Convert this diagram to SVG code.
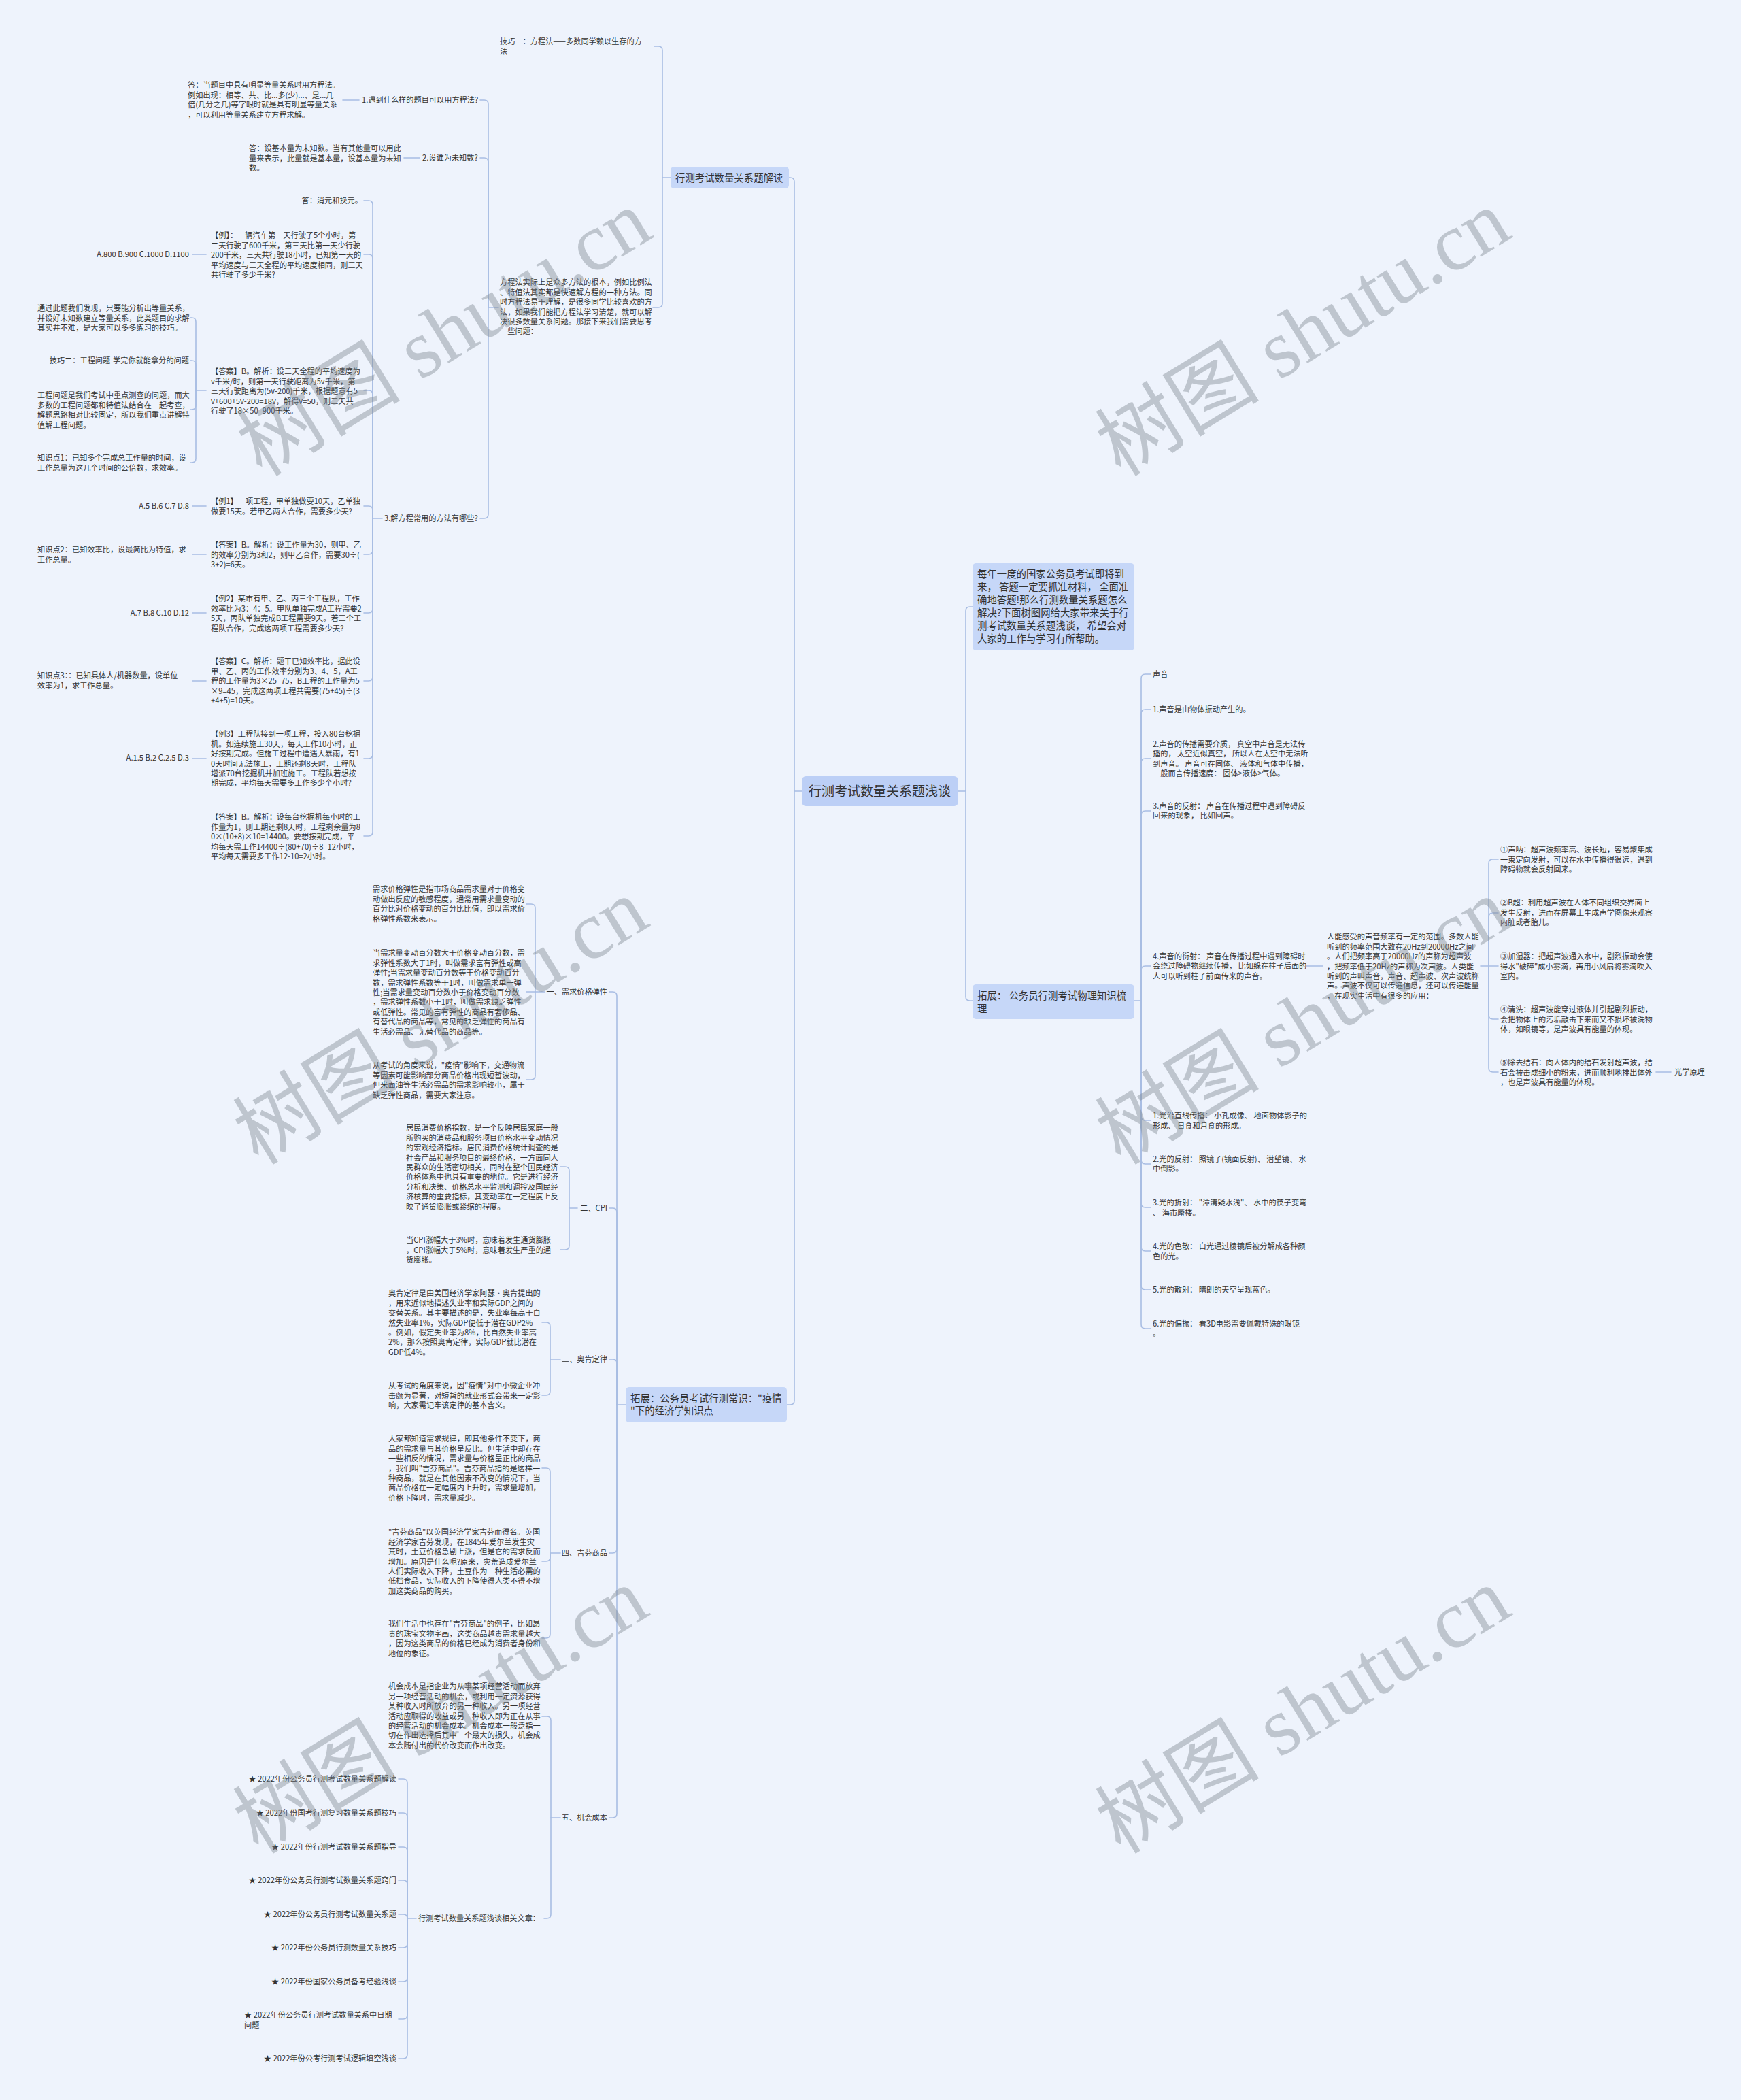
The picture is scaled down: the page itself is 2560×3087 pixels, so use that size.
<svg xmlns="http://www.w3.org/2000/svg" width="2560" height="3087" viewBox="0 0 2560 3087">
<style>
.l{fill:none;stroke:#a8bde3;stroke-width:1.6;stroke-linecap:round}
.t{font-family:"Noto Sans CJK SC","Microsoft YaHei",sans-serif;font-size:11.2px;fill:#333}
.e{text-anchor:end}
.m{font-size:14.4px}
.c{font-size:19px}
.b{fill:#c6d7f8}
.bc{fill:#bccff6}
.w{font-family:"Liberation Serif","Noto Sans CJK SC",serif;font-size:121px;fill:#7d8590;fill-opacity:0.42}
</style>
<rect width="2560" height="3087" fill="#eef3fc"/>
<g id="connectors">
<path class="l" d="M1409,1163 H1420 V898 Q1420,892 1426,892 H1430"/>
<path class="l" d="M1420,1163 V1465 Q1420,1471 1426,1471 H1430"/>
<path class="l" d="M1179,1163 H1168 V267 Q1168,261 1162,261 H1160"/>
<path class="l" d="M1168,1163 V2059 Q1168,2065 1162,2065 H1157"/>
<path class="l" d="M986,261 H974 V74 Q974,68 968,68 H962"/>
<path class="l" d="M974,261 V446 Q974,452 968,452 H960"/>
<path class="l" d="M733,452 H718 V153 Q718,147 712,147 H706"/>
<path class="l" d="M718,452 V238 Q718,232 712,232 H706"/>
<path class="l" d="M718,452 V756 Q718,762 712,762 H706"/>
<path class="l" d="M528,147 H504"/>
<path class="l" d="M617,232 H594"/>
<path class="l" d="M562,762 H548 V301 Q548,295 542,295 H535"/>
<path class="l" d="M548,762 V380 Q548,374 542,374 H535"/>
<path class="l" d="M548,762 V580 Q548,574 542,574 H535"/>
<path class="l" d="M548,762 V750 Q548,744 542,744 H535"/>
<path class="l" d="M548,762 V809 Q548,815 542,815 H535"/>
<path class="l" d="M548,762 V895 Q548,901 542,901 H535"/>
<path class="l" d="M548,762 V995 Q548,1001 542,1001 H535"/>
<path class="l" d="M548,762 V1109 Q548,1115 542,1115 H535"/>
<path class="l" d="M548,762 V1223 Q548,1229 542,1229 H535"/>
<path class="l" d="M303,374 H283"/>
<path class="l" d="M303,744 H283"/>
<path class="l" d="M303,815 H283"/>
<path class="l" d="M303,901 H283"/>
<path class="l" d="M303,1001 H283"/>
<path class="l" d="M303,1115 H283"/>
<path class="l" d="M303,574 H288 V473 Q288,467 282,467 H280"/>
<path class="l" d="M288,574 V536 Q288,530 282,530 H280"/>
<path class="l" d="M288,574 V596 Q288,602 282,602 H280"/>
<path class="l" d="M288,574 V674 Q288,680 282,680 H280"/>
<path class="l" d="M920,2065 H907 V1464 Q907,1458 901,1458 H896"/>
<path class="l" d="M907,2065 V1782 Q907,1776 901,1776 H896"/>
<path class="l" d="M907,2065 V2004 Q907,1998 901,1998 H896"/>
<path class="l" d="M907,2065 V2277 Q907,2283 901,2283 H896"/>
<path class="l" d="M907,2065 V2666 Q907,2672 901,2672 H896"/>
<path class="l" d="M801,1458 H787 V1335 Q787,1329 781,1329 H774"/>
<path class="l" d="M787,1458 H774"/>
<path class="l" d="M787,1458 V1581 Q787,1587 781,1587 H774"/>
<path class="l" d="M849,1776 H837 V1721 Q837,1715 831,1715 H824"/>
<path class="l" d="M837,1776 V1831 Q837,1837 831,1837 H824"/>
<path class="l" d="M824,1998 H809 V1950 Q809,1944 803,1944 H797"/>
<path class="l" d="M809,1998 V2045 Q809,2051 803,2051 H797"/>
<path class="l" d="M824,2283 H809 V2164 Q809,2158 803,2158 H797"/>
<path class="l" d="M809,2283 V2289 Q809,2295 803,2295 H797"/>
<path class="l" d="M809,2283 V2402 Q809,2408 803,2408 H797"/>
<path class="l" d="M824,2672 H810 V2529 Q810,2523 804,2523 H797"/>
<path class="l" d="M810,2672 V2814 Q810,2820 804,2820 H800"/>
<path class="l" d="M612,2820 H599 V2621 Q599,2615 593,2615 H586"/>
<path class="l" d="M599,2820 V2671 Q599,2665 593,2665 H586"/>
<path class="l" d="M599,2820 V2721 Q599,2715 593,2715 H586"/>
<path class="l" d="M599,2820 V2770 Q599,2764 593,2764 H586"/>
<path class="l" d="M599,2820 Q599,2814 593,2814 H586"/>
<path class="l" d="M599,2820 V2857 Q599,2863 593,2863 H586"/>
<path class="l" d="M599,2820 V2907 Q599,2913 593,2913 H586"/>
<path class="l" d="M599,2820 V2962 Q599,2968 593,2968 H586"/>
<path class="l" d="M599,2820 V3020 Q599,3026 593,3026 H586"/>
<path class="l" d="M1668,1471 H1678 V997 Q1678,991 1684,991 H1692"/>
<path class="l" d="M1678,1471 V1049 Q1678,1043 1684,1043 H1692"/>
<path class="l" d="M1678,1471 V1121 Q1678,1115 1684,1115 H1692"/>
<path class="l" d="M1678,1471 V1198 Q1678,1192 1684,1192 H1692"/>
<path class="l" d="M1678,1471 V1426 Q1678,1420 1684,1420 H1692"/>
<path class="l" d="M1678,1471 V1641 Q1678,1647 1684,1647 H1692"/>
<path class="l" d="M1678,1471 V1705 Q1678,1711 1684,1711 H1692"/>
<path class="l" d="M1678,1471 V1769 Q1678,1775 1684,1775 H1692"/>
<path class="l" d="M1678,1471 V1833 Q1678,1839 1684,1839 H1692"/>
<path class="l" d="M1678,1471 V1890 Q1678,1896 1684,1896 H1692"/>
<path class="l" d="M1678,1471 V1947 Q1678,1953 1684,1953 H1692"/>
<path class="l" d="M1921,1420 H1945"/>
<path class="l" d="M2177,1420 H2189 V1269 Q2189,1263 2195,1263 H2203"/>
<path class="l" d="M2189,1420 V1348 Q2189,1342 2195,1342 H2203"/>
<path class="l" d="M2189,1420 H2203"/>
<path class="l" d="M2189,1420 V1492 Q2189,1498 2195,1498 H2203"/>
<path class="l" d="M2189,1420 V1570 Q2189,1576 2195,1576 H2203"/>
<path class="l" d="M2435,1576 H2457"/>
</g>

<g id="n-root"><rect class="bc" x="1179" y="1141" width="230" height="44" rx="6"/><text class="t c" x="1189" y="1170">行测考试数量关系题浅谈</text></g>

<g id="n-intro"><rect class="b" x="1430" y="828" width="238" height="128" rx="5"/>
<text class="t m" x="1437" y="848.5"><tspan x="1437">每年一度的国家公务员考试即将到</tspan><tspan x="1437" dy="19">来， 答题一定要抓准材料， 全面准</tspan><tspan x="1437" dy="19">确地答题!那么行测数量关系题怎么</tspan><tspan x="1437" dy="19">解决?下面树图网给大家带来关于行</tspan><tspan x="1437" dy="19">测考试数量关系题浅谈， 希望会对</tspan><tspan x="1437" dy="19">大家的工作与学习有所帮助。</tspan></text></g>

<g id="n-phys"><rect class="b" x="1430" y="1447" width="238" height="51" rx="5"/>
<text class="t m" x="1437" y="1468.5"><tspan x="1437">拓展： 公务员行测考试物理知识梳</tspan><tspan x="1437" dy="19">理</tspan></text></g>

<g id="n-jiedu"><rect class="b" x="986" y="245" width="174" height="32" rx="5"/><text class="t m" x="993" y="266.5">行测考试数量关系题解读</text></g>

<g id="n-yiqing"><rect class="b" x="920" y="2039" width="237" height="52" rx="5"/>
<text class="t m" x="927" y="2060.5"><tspan x="927">拓展：公务员考试行测常识："疫情</tspan><tspan x="927" dy="18.5">"下的经济学知识点</tspan></text></g>

<g id="n-jq1"><text class="t" x="735" y="65.3"><tspan x="735">技巧一：方程法——多数同学赖以生存的方</tspan><tspan x="735" dy="14.4">法</tspan></text></g>
<g id="n-fcf"><text class="t" x="735" y="419.3"><tspan x="735">方程法实际上是众多方法的根本，例如比例法</tspan><tspan x="735" dy="14.4">、特值法其实都是快速解方程的一种方法。同</tspan><tspan x="735" dy="14.4">时方程法易于理解，是很多同学比较喜欢的方</tspan><tspan x="735" dy="14.4">法，如果我们能把方程法学习清楚，就可以解</tspan><tspan x="735" dy="14.4">决很多数量关系问题。那接下来我们需要思考</tspan><tspan x="735" dy="14.4">一些问题：</tspan></text></g>
<g id="n-q1"><text class="t" x="532" y="151.3">1.遇到什么样的题目可以用方程法?</text></g>
<g id="n-a1"><text class="t" x="276" y="129.3"><tspan x="276">答：当题目中具有明显等量关系时用方程法。</tspan><tspan x="276" dy="14.4">例如出现：相等、共、比...多(少)...、是...几</tspan><tspan x="276" dy="14.4">倍(几分之几)等字眼时就是具有明显等量关系</tspan><tspan x="276" dy="14.4">，可以利用等量关系建立方程求解。</tspan></text></g>
<g id="n-q2"><text class="t" x="621" y="236.3">2.设谁为未知数?</text></g>
<g id="n-a2"><text class="t" x="366" y="222.3"><tspan x="366">答：设基本量为未知数。当有其他量可以用此</tspan><tspan x="366" dy="14.4">量来表示，此量就是基本量，设基本量为未知</tspan><tspan x="366" dy="14.4">数。</tspan></text></g>
<g id="n-q3"><text class="t" x="565" y="766.3">3.解方程常用的方法有哪些?</text></g>

<g id="n-a3"><text class="t e" x="533" y="299.3">答：消元和换元。</text></g>
<g id="n-li"><text class="t" x="310" y="350.3"><tspan x="310">【例】：一辆汽车第一天行驶了5个小时，第</tspan><tspan x="310" dy="14.4">二天行驶了600千米，第三天比第一天少行驶</tspan><tspan x="310" dy="14.4">200千米，三天共行驶18小时，已知第一天的</tspan><tspan x="310" dy="14.4">平均速度与三天全程的平均速度相同，则三天</tspan><tspan x="310" dy="14.4">共行驶了多少千米?</tspan></text></g>
<g id="n-ans1"><text class="t" x="310" y="550.3"><tspan x="310">【答案】B。解析：设三天全程的平均速度为</tspan><tspan x="310" dy="14.4">v千米/时，则第一天行驶距离为5v千米，第</tspan><tspan x="310" dy="14.4">三天行驶距离为(5v-200)千米，根据题意有5</tspan><tspan x="310" dy="14.4">v+600+5v-200=18v，解得v=50，则三天共</tspan><tspan x="310" dy="14.4">行驶了18×50=900千米。</tspan></text></g>
<g id="n-li1"><text class="t" x="310" y="741.3"><tspan x="310">【例1】一项工程，甲单独做要10天，乙单独</tspan><tspan x="310" dy="14.4">做要15天。若甲乙两人合作，需要多少天?</tspan></text></g>
<g id="n-ans2"><text class="t" x="310" y="805.3"><tspan x="310">【答案】B。解析：设工作量为30，则甲、乙</tspan><tspan x="310" dy="14.4">的效率分别为3和2，则甲乙合作，需要30÷(</tspan><tspan x="310" dy="14.4">3+2)=6天。</tspan></text></g>
<g id="n-li2"><text class="t" x="310" y="884.3"><tspan x="310">【例2】某市有甲、乙、丙三个工程队，工作</tspan><tspan x="310" dy="14.4">效率比为3：4：5。甲队单独完成A工程需要2</tspan><tspan x="310" dy="14.4">5天，丙队单独完成B工程需要9天。若三个工</tspan><tspan x="310" dy="14.4">程队合作，完成这两项工程需要多少天?</tspan></text></g>
<g id="n-ans3"><text class="t" x="310" y="976.3"><tspan x="310">【答案】C。解析：题干已知效率比，据此设</tspan><tspan x="310" dy="14.4">甲、乙、丙的工作效率分别为3、4、5，A工</tspan><tspan x="310" dy="14.4">程的工作量为3×25=75，B工程的工作量为5</tspan><tspan x="310" dy="14.4">×9=45，完成这两项工程共需要(75+45)÷(3</tspan><tspan x="310" dy="14.4">+4+5)=10天。</tspan></text></g>
<g id="n-li3"><text class="t" x="310" y="1083.3"><tspan x="310">【例3】工程队接到一项工程，投入80台挖掘</tspan><tspan x="310" dy="14.4">机。如连续施工30天，每天工作10小时，正</tspan><tspan x="310" dy="14.4">好按期完成。但施工过程中遭遇大暴雨，有1</tspan><tspan x="310" dy="14.4">0天时间无法施工，工期还剩8天时，工程队</tspan><tspan x="310" dy="14.4">增派70台挖掘机并加班施工。工程队若想按</tspan><tspan x="310" dy="14.4">期完成，平均每天需要多工作多少个小时?</tspan></text></g>
<g id="n-ans4"><text class="t" x="310" y="1205.3"><tspan x="310">【答案】B。解析：设每台挖掘机每小时的工</tspan><tspan x="310" dy="14.4">作量为1，则工期还剩8天时，工程剩余量为8</tspan><tspan x="310" dy="14.4">0×(10+8)×10=14400。要想按期完成，平</tspan><tspan x="310" dy="14.4">均每天需工作14400÷(80+70)÷8=12小时，</tspan><tspan x="310" dy="14.4">平均每天需要多工作12-10=2小时。</tspan></text></g>

<g id="n-opt0"><text class="t e" x="278" y="378.3">A.800 B.900 C.1000 D.1100</text></g>
<g id="n-tgc"><text class="t" x="55" y="457.3"><tspan x="55">通过此题我们发现，只要能分析出等量关系，</tspan><tspan x="55" dy="14.4">并设好未知数建立等量关系，此类题目的求解</tspan><tspan x="55" dy="14.4">其实并不难，是大家可以多多练习的技巧。</tspan></text></g>
<g id="n-jq2"><text class="t e" x="278" y="534.3">技巧二：工程问题-学完你就能拿分的问题</text></g>
<g id="n-gcwt"><text class="t" x="55" y="585.3"><tspan x="55">工程问题是我们考试中重点测查的问题，而大</tspan><tspan x="55" dy="14.4">多数的工程问题都和特值法结合在一起考查，</tspan><tspan x="55" dy="14.4">解题思路相对比较固定，所以我们重点讲解特</tspan><tspan x="55" dy="14.4">值解工程问题。</tspan></text></g>
<g id="n-zsd1"><text class="t" x="55" y="677.3"><tspan x="55">知识点1：已知多个完成总工作量的时间，设</tspan><tspan x="55" dy="14.4">工作总量为这几个时间的公倍数，求效率。</tspan></text></g>
<g id="n-opt1"><text class="t e" x="278" y="748.3">A.5 B.6 C.7 D.8</text></g>
<g id="n-zsd2"><text class="t" x="55" y="812.3"><tspan x="55">知识点2：已知效率比，设最简比为特值，求</tspan><tspan x="55" dy="14.4">工作总量。</tspan></text></g>
<g id="n-opt2"><text class="t e" x="278" y="905.3">A.7 B.8 C.10 D.12</text></g>
<g id="n-zsd3"><text class="t" x="55" y="997.3"><tspan x="55">知识点3：：已知具体人/机器数量，设单位</tspan><tspan x="55" dy="14.4">效率为1，求工作总量。</tspan></text></g>
<g id="n-opt3"><text class="t e" x="278" y="1118.3">A.1.5 B.2 C.2.5 D.3</text></g>

<g id="n-e1"><text class="t e" x="893" y="1462.3">一、需求价格弹性</text></g>
<g id="n-e1a"><text class="t" x="548" y="1311.3"><tspan x="548">需求价格弹性是指市场商品需求量对于价格变</tspan><tspan x="548" dy="14.4">动做出反应的敏感程度，通常用需求量变动的</tspan><tspan x="548" dy="14.4">百分比对价格变动的百分比比值，即以需求价</tspan><tspan x="548" dy="14.4">格弹性系数来表示。</tspan></text></g>
<g id="n-e1b"><text class="t" x="548" y="1405.3"><tspan x="548">当需求量变动百分数大于价格变动百分数，需</tspan><tspan x="548" dy="14.4">求弹性系数大于1时，叫做需求富有弹性或高</tspan><tspan x="548" dy="14.4">弹性;当需求量变动百分数等于价格变动百分</tspan><tspan x="548" dy="14.4">数，需求弹性系数等于1时，叫做需求单一弹</tspan><tspan x="548" dy="14.4">性;当需求量变动百分数小于价格变动百分数</tspan><tspan x="548" dy="14.4">，需求弹性系数小于1时，叫做需求缺乏弹性</tspan><tspan x="548" dy="14.4">或低弹性。常见的富有弹性的商品有奢侈品、</tspan><tspan x="548" dy="14.4">有替代品的商品等，常见的缺乏弹性的商品有</tspan><tspan x="548" dy="14.4">生活必需品、无替代品的商品等。</tspan></text></g>
<g id="n-e1c"><text class="t" x="548" y="1570.3"><tspan x="548">从考试的角度来说，"疫情"影响下，交通物流</tspan><tspan x="548" dy="14.4">等因素可能影响部分商品价格出现短暂波动，</tspan><tspan x="548" dy="14.4">但米面油等生活必需品的需求影响较小，属于</tspan><tspan x="548" dy="14.4">缺乏弹性商品，需要大家注意。</tspan></text></g>
<g id="n-e2"><text class="t e" x="893" y="1780.3">二、CPI</text></g>
<g id="n-e2a"><text class="t" x="597" y="1662.3"><tspan x="597">居民消费价格指数，是一个反映居民家庭一般</tspan><tspan x="597" dy="14.4">所购买的消费品和服务项目价格水平变动情况</tspan><tspan x="597" dy="14.4">的宏观经济指标。居民消费价格统计调查的是</tspan><tspan x="597" dy="14.4">社会产品和服务项目的最终价格，一方面同人</tspan><tspan x="597" dy="14.4">民群众的生活密切相关，同时在整个国民经济</tspan><tspan x="597" dy="14.4">价格体系中也具有重要的地位。它是进行经济</tspan><tspan x="597" dy="14.4">分析和决策、价格总水平监测和调控及国民经</tspan><tspan x="597" dy="14.4">济核算的重要指标，其变动率在一定程度上反</tspan><tspan x="597" dy="14.4">映了通货膨胀或紧缩的程度。</tspan></text></g>
<g id="n-e2b"><text class="t" x="597" y="1827.3"><tspan x="597">当CPI涨幅大于3%时，意味着发生通货膨胀</tspan><tspan x="597" dy="14.4">，CPI涨幅大于5%时，意味着发生严重的通</tspan><tspan x="597" dy="14.4">货膨胀。</tspan></text></g>
<g id="n-e3"><text class="t e" x="893" y="2002.3">三、奥肯定律</text></g>
<g id="n-e3a"><text class="t" x="571" y="1905.3"><tspan x="571">奥肯定律是由美国经济学家阿瑟·奥肯提出的</tspan><tspan x="571" dy="14.4">，用来近似地描述失业率和实际GDP之间的</tspan><tspan x="571" dy="14.4">交替关系。其主要描述的是，失业率每高于自</tspan><tspan x="571" dy="14.4">然失业率1%，实际GDP便低于潜在GDP2%</tspan><tspan x="571" dy="14.4">。例如，假定失业率为8%，比自然失业率高</tspan><tspan x="571" dy="14.4">2%，那么按照奥肯定律，实际GDP就比潜在</tspan><tspan x="571" dy="14.4">GDP低4%。</tspan></text></g>
<g id="n-e3b"><text class="t" x="571" y="2041.3"><tspan x="571">从考试的角度来说，因"疫情"对中小微企业冲</tspan><tspan x="571" dy="14.4">击颇为显著，对短暂的就业形式会带来一定影</tspan><tspan x="571" dy="14.4">响，大家需记牢该定律的基本含义。</tspan></text></g>
<g id="n-e4"><text class="t e" x="893" y="2287.3">四、吉芬商品</text></g>
<g id="n-e4a"><text class="t" x="571" y="2119.3"><tspan x="571">大家都知道需求规律，即其他条件不变下，商</tspan><tspan x="571" dy="14.4">品的需求量与其价格呈反比。但生活中却存在</tspan><tspan x="571" dy="14.4">一些相反的情况，需求量与价格呈正比的商品</tspan><tspan x="571" dy="14.4">，我们叫"吉芬商品"。吉芬商品指的是这样一</tspan><tspan x="571" dy="14.4">种商品，就是在其他因素不改变的情况下，当</tspan><tspan x="571" dy="14.4">商品价格在一定幅度内上升时，需求量增加，</tspan><tspan x="571" dy="14.4">价格下降时，需求量减少。</tspan></text></g>
<g id="n-e4b"><text class="t" x="571" y="2256.3"><tspan x="571">"吉芬商品"以英国经济学家吉芬而得名。英国</tspan><tspan x="571" dy="14.4">经济学家吉芬发现，在1845年爱尔兰发生灾</tspan><tspan x="571" dy="14.4">荒时，土豆价格急剧上涨，但是它的需求反而</tspan><tspan x="571" dy="14.4">增加。原因是什么呢?原来，灾荒造成爱尔兰</tspan><tspan x="571" dy="14.4">人们实际收入下降，土豆作为一种生活必需的</tspan><tspan x="571" dy="14.4">低档食品，实际收入的下降使得人类不得不增</tspan><tspan x="571" dy="14.4">加这类商品的购买。</tspan></text></g>
<g id="n-e4c"><text class="t" x="571" y="2391.3"><tspan x="571">我们生活中也存在"吉芬商品"的例子，比如昂</tspan><tspan x="571" dy="14.4">贵的珠宝文物字画，这类商品越贵需求量越大</tspan><tspan x="571" dy="14.4">，因为这类商品的价格已经成为消费者身份和</tspan><tspan x="571" dy="14.4">地位的象征。</tspan></text></g>
<g id="n-e5"><text class="t e" x="893" y="2676.3">五、机会成本</text></g>
<g id="n-e5a"><text class="t" x="571" y="2483.3"><tspan x="571">机会成本是指企业为从事某项经营活动而放弃</tspan><tspan x="571" dy="14.4">另一项经营活动的机会，或利用一定资源获得</tspan><tspan x="571" dy="14.4">某种收入时所放弃的另一种收入。另一项经营</tspan><tspan x="571" dy="14.4">活动应取得的收益或另一种收入即为正在从事</tspan><tspan x="571" dy="14.4">的经营活动的机会成本。机会成本一般泛指一</tspan><tspan x="571" dy="14.4">切在作出选择后其中一个最大的损失，机会成</tspan><tspan x="571" dy="14.4">本会随付出的代价改变而作出改变。</tspan></text></g>
<g id="n-rel"><text class="t" x="615" y="2824.3">行测考试数量关系题浅谈相关文章：</text></g>
<g id="n-r1"><text class="t e" x="583" y="2619.3">★ 2022年份公务员行测考试数量关系题解读</text></g>
<g id="n-r2"><text class="t e" x="583" y="2669.3">★ 2022年份国考行测复习数量关系题技巧</text></g>
<g id="n-r3"><text class="t e" x="583" y="2719.3">★ 2022年份行测考试数量关系题指导</text></g>
<g id="n-r4"><text class="t e" x="583" y="2768.3">★ 2022年份公务员行测考试数量关系题窍门</text></g>
<g id="n-r5"><text class="t e" x="583" y="2818.3">★ 2022年份公务员行测考试数量关系题</text></g>
<g id="n-r6"><text class="t e" x="583" y="2867.3">★ 2022年份公务员行测数量关系技巧</text></g>
<g id="n-r7"><text class="t e" x="583" y="2917.3">★ 2022年份国家公务员备考经验浅谈</text></g>
<g id="n-r8"><text class="t" x="359" y="2966.3"><tspan x="359">★ 2022年份公务员行测考试数量关系中日期</tspan><tspan x="359" dy="14.4">问题</tspan></text></g>
<g id="n-r9"><text class="t e" x="583" y="3030.3">★ 2022年份公考行测考试逻辑填空浅谈</text></g>

<g id="n-p0"><text class="t" x="1695" y="995.3">声音</text></g>
<g id="n-p1"><text class="t" x="1695" y="1047">1.声音是由物体振动产生的。</text></g>
<g id="n-p2"><text class="t" x="1695" y="1097.7"><tspan x="1695">2.声音的传播需要介质， 真空中声音是无法传</tspan><tspan x="1695" dy="14.4">播的， 太空近似真空， 所以人在太空中无法听</tspan><tspan x="1695" dy="14.4">到声音。 声音可在固体、 液体和气体中传播，</tspan><tspan x="1695" dy="14.4">一般而言传播速度： 固体&gt;液体&gt;气体。</tspan></text></g>
<g id="n-p3"><text class="t" x="1695" y="1188.8"><tspan x="1695">3.声音的反射： 声音在传播过程中遇到障碍反</tspan><tspan x="1695" dy="14.4">回来的现象， 比如回声。</tspan></text></g>
<g id="n-p4"><text class="t" x="1695" y="1410"><tspan x="1695">4.声音的衍射： 声音在传播过程中遇到障碍时</tspan><tspan x="1695" dy="14.4">会绕过障碍物继续传播， 比如躲在柱子后面的</tspan><tspan x="1695" dy="14.4">人可以听到柱子前面传来的声音。</tspan></text></g>
<g id="n-p5"><text class="t" x="1951" y="1381.3"><tspan x="1951">人能感受的声音频率有一定的范围。多数人能</tspan><tspan x="1951" dy="14.4">听到的频率范围大致在20Hz到20000Hz之间</tspan><tspan x="1951" dy="14.4">。人们把频率高于20000Hz的声称为超声波</tspan><tspan x="1951" dy="14.4">，把频率低于20Hz的声称为次声波。人类能</tspan><tspan x="1951" dy="14.4">听到的声叫声音，声音、超声波、次声波统称</tspan><tspan x="1951" dy="14.4">声。声波不仅可以传递信息，还可以传递能量</tspan><tspan x="1951" dy="14.4">，在现实生活中有很多的应用：</tspan></text></g>
<g id="n-u1"><text class="t" x="2206" y="1253.3"><tspan x="2206">①声呐：超声波频率高、波长短，容易聚集成</tspan><tspan x="2206" dy="14.4">一束定向发射，可以在水中传播得很远，遇到</tspan><tspan x="2206" dy="14.4">障碍物就会反射回来。</tspan></text></g>
<g id="n-u2"><text class="t" x="2206" y="1331.3"><tspan x="2206">②B超：利用超声波在人体不同组织交界面上</tspan><tspan x="2206" dy="14.4">发生反射，进而在屏幕上生成声学图像来观察</tspan><tspan x="2206" dy="14.4">内脏或者胎儿。</tspan></text></g>
<g id="n-u3"><text class="t" x="2206" y="1410.3"><tspan x="2206">③加湿器：把超声波通入水中，剧烈振动会使</tspan><tspan x="2206" dy="14.4">得水"破碎"成小雾滴，再用小风扇将雾滴吹入</tspan><tspan x="2206" dy="14.4">室内。</tspan></text></g>
<g id="n-u4"><text class="t" x="2206" y="1488.3"><tspan x="2206">④清洗：超声波能穿过液体并引起剧烈振动，</tspan><tspan x="2206" dy="14.4">会把物体上的污垢敲击下来而又不损坏被洗物</tspan><tspan x="2206" dy="14.4">体，如眼镜等，是声波具有能量的体现。</tspan></text></g>
<g id="n-u5"><text class="t" x="2206" y="1566.3"><tspan x="2206">⑤除去结石：向人体内的结石发射超声波，结</tspan><tspan x="2206" dy="14.4">石会被击成细小的粉末，进而顺利地排出体外</tspan><tspan x="2206" dy="14.4">，也是声波具有能量的体现。</tspan></text></g>
<g id="n-u6"><text class="t" x="2462" y="1580.3">光学原理</text></g>
<g id="n-g1"><text class="t" x="1695" y="1644.3"><tspan x="1695">1.光沿直线传播： 小孔成像、 地面物体影子的</tspan><tspan x="1695" dy="14.4">形成、 日食和月食的形成。</tspan></text></g>
<g id="n-g2"><text class="t" x="1695" y="1708"><tspan x="1695">2.光的反射： 照镜子(镜面反射)、 潜望镜、 水</tspan><tspan x="1695" dy="14.4">中倒影。</tspan></text></g>
<g id="n-g3"><text class="t" x="1695" y="1772.3"><tspan x="1695">3.光的折射： "潭清疑水浅"、 水中的筷子变弯</tspan><tspan x="1695" dy="14.4">、 海市蜃楼。</tspan></text></g>
<g id="n-g4"><text class="t" x="1695" y="1836.3"><tspan x="1695">4.光的色散： 白光通过棱镜后被分解成各种颜</tspan><tspan x="1695" dy="14.4">色的光。</tspan></text></g>
<g id="n-g5"><text class="t" x="1695" y="1900">5.光的散射： 晴朗的天空呈现蓝色。</text></g>
<g id="n-g6"><text class="t" x="1695" y="1950"><tspan x="1695">6.光的偏振： 看3D电影需要佩戴特殊的眼镜</tspan><tspan x="1695" dy="14.4">。</tspan></text></g>

<g id="watermark">
<text class="w" transform="translate(385,702) rotate(-31.5)">树图 shutu.cn</text>
<text class="w" transform="translate(1648,702) rotate(-31.5)">树图 shutu.cn</text>
<text class="w" transform="translate(380,1714) rotate(-31.5)">树图 shutu.cn</text>
<text class="w" transform="translate(1648,1714) rotate(-31.5)">树图 shutu.cn</text>
<text class="w" transform="translate(380,2727) rotate(-31.5)">树图 shutu.cn</text>
<text class="w" transform="translate(1648,2727) rotate(-31.5)">树图 shutu.cn</text>
</g>
</svg>
